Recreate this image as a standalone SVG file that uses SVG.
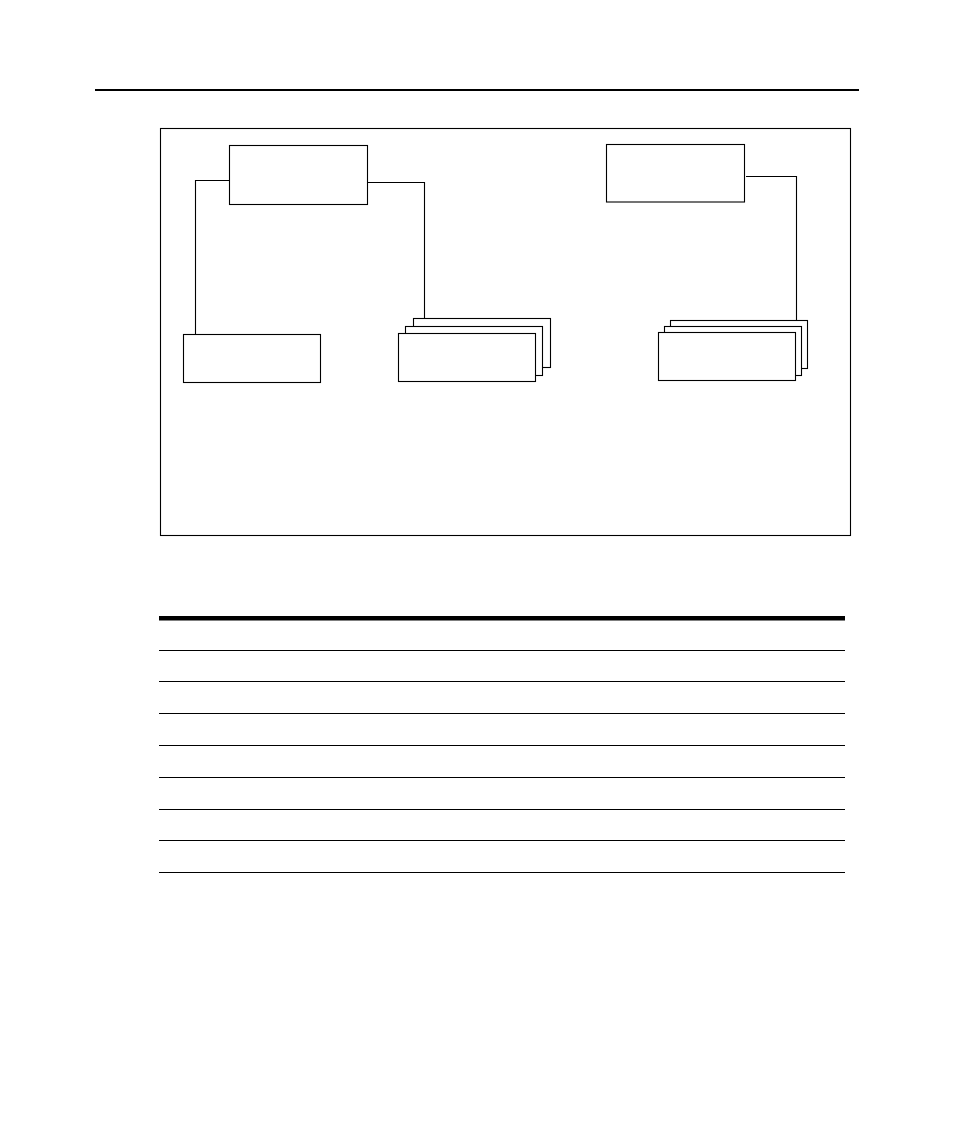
<svg xmlns="http://www.w3.org/2000/svg" width="954" height="1145" viewBox="0 0 954 1145">
<style>
.box{fill:#fff;stroke:#000;stroke-width:1.1}
.ln{fill:none;stroke:#000;stroke-width:1.1}
.rule{stroke:#000;stroke-width:1.1}
</style>
<rect width="954" height="1145" fill="#fff"/>
<line x1="95" y1="90" x2="859" y2="90" stroke="#000" stroke-width="2"/>
<rect id="frame" x="160.5" y="128.5" width="690" height="407" class="ln"/>
<g id="connectors">
<polyline class="ln" points="229.5,180.5 195.5,180.5 195.5,334.5"/>
<polyline class="ln" points="367.5,182.5 424.5,182.5 424.5,320"/>
<polyline class="ln" points="746,176.5 796.5,176.5 796.5,320.5"/>
</g>
<g id="nodeA"><rect class="box" x="229.5" y="145.5" width="138" height="59"/></g>
<g id="nodeB"><rect class="box" x="183.5" y="334.5" width="137" height="48"/></g>
<g id="nodeC"><rect class="box" x="606.5" y="144.5" width="138" height="57.5"/></g>
<g id="stack1">
<rect class="box" x="413.5" y="318.5" width="137" height="49"/>
<rect class="box" x="405.5" y="326.5" width="137" height="49"/>
<rect class="box" x="398.5" y="333.5" width="137" height="48"/>
</g>
<g id="stack2">
<rect class="box" x="670.5" y="320.5" width="137" height="48"/>
<rect class="box" x="664.5" y="326.5" width="137" height="49"/>
<rect class="box" x="658.5" y="332.5" width="137" height="48"/>
</g>
<g id="table">
<line x1="159" y1="618.3" x2="845" y2="618.3" stroke="#000" stroke-width="4.5"/>
<line class="rule" x1="159" y1="650.5" x2="845" y2="650.5"/>
<line class="rule" x1="159" y1="681.5" x2="845" y2="681.5"/>
<line class="rule" x1="159" y1="713.5" x2="845" y2="713.5"/>
<line class="rule" x1="159" y1="745.5" x2="845" y2="745.5"/>
<line class="rule" x1="159" y1="777.5" x2="845" y2="777.5"/>
<line class="rule" x1="159" y1="809.5" x2="845" y2="809.5"/>
<line class="rule" x1="159" y1="840.5" x2="845" y2="840.5"/>
<line class="rule" x1="159" y1="872.5" x2="845" y2="872.5"/>
</g>
</svg>
